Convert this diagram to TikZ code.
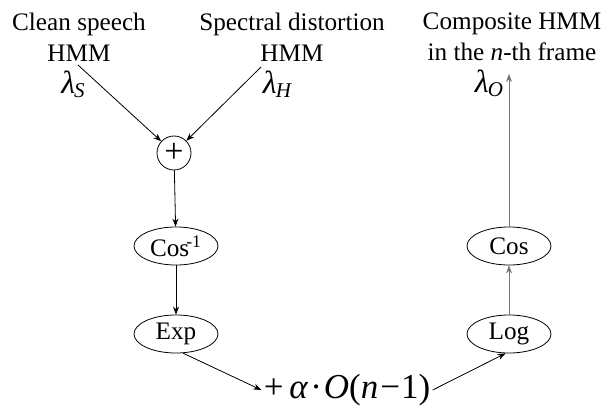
\documentclass[tikz,border=0pt]{standalone}
\usepackage{fontspec}
\setmainfont{Liberation Serif}
\usetikzlibrary{shapes.geometric, arrows.meta, positioning}
\newcommand{\lam}[1]{{\fontsize{16}{16}\selectfont\itshape λ}\kern-0.5pt\raisebox{-0.45ex}{\fontsize{10.5}{10.5}\selectfont\itshape #1}}
\tikzset{
  modeltext/.style={align=center, font=\fontsize{12.6}{15.5}\selectfont, inner sep=0pt},
  func/.style={ellipse, draw, thin, minimum width=42pt, minimum height=19pt,
    inner sep=0pt, font=\fontsize{12.6}{15}\selectfont},
  summer/.style={circle, draw, thin, minimum size=17pt, inner sep=0pt,
    font=\fontsize{17}{17}\selectfont},
  arrow/.style={-{Stealth[length=4pt, width=3pt]}, thin},
  grayarrow/.style={arrow, color=black!55},
}
\begin{document}
\begin{tikzpicture}[x=0.5pt, y=-0.5pt]
  \useasboundingbox (0,0) rectangle (616,411);
  % model labels
  \node[modeltext] (clean) at (79,37) {Clean speech\\HMM};
  \node[modeltext] (distort) at (292,37) {Spectral distortion\\HMM};
  \node[modeltext] (composite) at (512,37) {Composite HMM\\in the \textit{n}-th frame};
  \node (lamS) at (73,84) {\lam{S}};
  \node (lamH) at (277,84) {\lam{H}};
  \node (lamO) at (489,83) {\lam{O}};
  \coordinate (sstart) at (78,65);
  \coordinate (hstart) at (261,67);
  \coordinate (oend) at (509,74);
  % processing chain
  \node[summer] (plus) at (174,153) {+};
  \node[func] (acos) at (176,246) {Cos\kern-1.5pt\textsuperscript{-1}};
  \node[func] (expn) at (176,334) {Exp};
  \node[func] (logn) at (509,334) {Log};
  \node[func] (cosn) at (509,246) {Cos};
  \node[inner sep=1pt, font=\fontsize{17.5}{18}\selectfont]
    (recur) at (347,390) {+\,\textit{α}\kern1pt·\kern1pt\textit{O}(\textit{n}\kern1pt−\kern0.5pt1)};

  \draw[arrow] (sstart) -- (plus);
  \draw[arrow] (hstart) -- (plus);
  \draw[arrow] (plus) -- (acos);
  \draw[arrow] (acos) -- (expn);
  \draw[arrow] (expn.-70) -- (recur.west);
  \draw[arrow] (recur.east) -- (logn.-100);
  \draw[grayarrow] (logn) -- (cosn);
  \draw[grayarrow] (cosn) -- (oend);
\end{tikzpicture}
\end{document}
